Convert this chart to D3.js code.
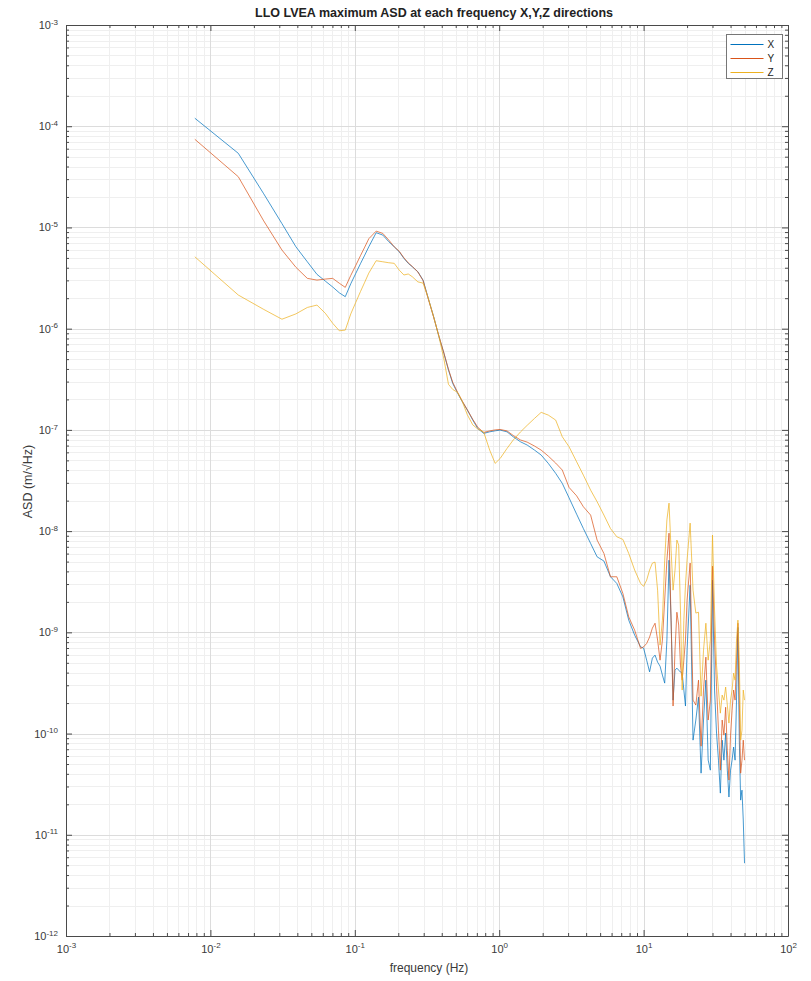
<!DOCTYPE html>
<html>
<head>
<meta charset="utf-8">
<script src="https://cdn.jsdelivr.net/npm/d3@7"></script>
<style>
  body { margin: 0; background: #fff; }
  svg { display: block; }
  text { font-family: "Liberation Sans", Arial, Helvetica, sans-serif; }
</style>
</head>
<body>
<svg id="chart" width="811" height="981"></svg>
<script>
// Frequency bins (Hz) shared by the three directions
const freqHz = [
  0.0078, 0.0156, 0.0234, 0.0313, 0.0391, 0.0469, 0.0547, 0.0625, 0.0703, 0.0781,
  0.0859, 0.0938, 0.1016, 0.1094, 0.1172, 0.125, 0.1406, 0.1563, 0.1719, 0.1875,
  0.2031, 0.2188, 0.2344, 0.25, 0.2734, 0.2969, 0.3203, 0.3516, 0.3828, 0.4141,
  0.4453, 0.4766, 0.5156, 0.5547, 0.6016, 0.6563, 0.7109, 0.7813, 0.8594, 0.9375,
  1.0156, 1.1328, 1.25, 1.4063, 1.5625, 1.7578, 1.9531, 2.1875, 2.4609, 2.7344,
  3.0469, 3.4375, 3.8281, 4.2969, 4.7656, 5.3125, 5.8984, 6.5234, 7.1875, 7.8906,
  8.6719, 9.5313,
  10, 10.5, 11, 11.5, 12, 12.5, 13, 13.5, 14, 14.5,
  15, 15.5, 16, 16.5, 17, 17.5, 18, 18.5, 19, 19.5,
  20, 21, 22, 23, 24, 25, 26, 27, 28, 29,
  30, 31, 32, 33, 34, 35, 36, 37, 38, 39,
  40, 41, 42, 43, 44, 45, 46, 47, 48, 49,
  50
];

// Maximum ASD (m/sqrt(Hz)), X direction
const asdX = [
  1.20e-4, 5.40e-5, 2.15e-5, 1.09e-5, 6.44e-6, 4.58e-6, 3.44e-6, 2.95e-6, 2.58e-6, 2.26e-6,
  2.07e-6, 2.78e-6, 3.52e-6, 4.38e-6, 5.33e-6, 6.44e-6, 8.87e-6, 8.41e-6, 7.23e-6, 6.44e-6,
  5.75e-6, 4.95e-6, 4.42e-6, 4.09e-6, 3.65e-6, 3.02e-6, 2.07e-6, 1.31e-6, 8.32e-7, 5.70e-7,
  3.90e-7, 2.88e-7, 2.30e-7, 1.90e-7, 1.57e-7, 1.25e-7, 1.03e-7, 9.23e-8, 9.57e-8, 9.79e-8,
  9.95e-8, 9.57e-8, 8.55e-8, 7.62e-8, 7.08e-8, 6.31e-8, 5.64e-8, 4.67e-8, 3.72e-8, 2.96e-8,
  2.13e-8, 1.47e-8, 1.06e-8, 7.55e-9, 5.57e-9, 5.06e-9, 3.54e-9, 3.04e-9, 2.24e-9, 1.32e-9,
  9.38e-10, 7.19e-10,
  6.98e-10, 5.31e-10, 4.07e-10, 5.56e-10, 5.96e-10, 5.07e-10, 4.63e-10, 3.78e-10, 3.15e-10, 8.38e-10,
  5.16e-9, 1.32e-9, 2.14e-10, 4.23e-10, 4.43e-10, 4.23e-10, 4.05e-10, 3.95e-10, 2.69e-10, 1.87e-10,
  6.67e-10, 2.92e-9, 8.61e-11, 1.36e-10, 2.29e-10, 4.06e-11, 1.36e-10, 3.37e-10, 5.47e-11, 4.35e-11,
  3.28e-9, 2.69e-10, 1.01e-10, 5.46e-11, 2.58e-11, 8.61e-11, 5.46e-11, 1.01e-10, 4.35e-11, 2.36e-11,
  4.35e-11, 5.46e-11, 7.35e-11, 5.46e-11, 2.14e-10, 1.12e-9, 8.61e-11, 2.20e-11, 2.76e-11, 1.40e-11,
  5.24e-12
];

// Maximum ASD (m/sqrt(Hz)), Y direction
const asdY = [
  7.43e-5, 3.17e-5, 1.16e-5, 5.98e-6, 4.04e-6, 3.14e-6, 3.02e-6, 3.09e-6, 3.14e-6, 2.81e-6,
  2.56e-6, 3.36e-6, 4.22e-6, 5.25e-6, 6.40e-6, 7.73e-6, 9.20e-6, 8.73e-6, 7.50e-6, 6.44e-6,
  5.82e-6, 5.01e-6, 4.47e-6, 4.12e-6, 3.63e-6, 2.99e-6, 2.04e-6, 1.30e-6, 8.41e-7, 5.75e-7,
  3.98e-7, 2.95e-7, 2.34e-7, 1.93e-7, 1.58e-7, 1.27e-7, 1.06e-7, 9.44e-8, 9.77e-8, 1.00e-7,
  1.01e-7, 9.77e-8, 8.81e-8, 7.94e-8, 7.57e-8, 6.92e-8, 6.31e-8, 5.51e-8, 4.70e-8, 4.01e-8,
  2.70e-8, 2.23e-8, 1.74e-8, 1.44e-8, 8.15e-9, 6.01e-9, 3.54e-9, 3.54e-9, 2.42e-9, 1.42e-9,
  1.05e-9, 6.93e-10,
  7.19e-10, 7.76e-10, 8.97e-10, 1.10e-9, 1.23e-9, 8.38e-10, 5.31e-10, 8.38e-10, 2.08e-9, 5.16e-9,
  9.55e-9, 1.32e-9, 1.87e-10, 6.67e-10, 1.58e-9, 1.18e-9, 4.74e-10, 3.37e-10, 5.31e-10, 8.38e-10,
  2.08e-9, 4.83e-9, 2.14e-10, 1.91e-10, 3.37e-10, 7.50e-11, 2.69e-10, 5.69e-10, 1.36e-10, 2.14e-10,
  4.51e-9, 8.38e-10, 2.94e-10, 1.08e-10, 4.35e-11, 1.36e-10, 9.64e-11, 1.82e-10, 6.85e-11, 3.47e-11,
  9.64e-11, 1.70e-10, 2.69e-10, 2.14e-10, 5.31e-10, 1.23e-9, 2.14e-10, 4.06e-11, 5.46e-11, 8.61e-11,
  5.46e-11
];

// Maximum ASD (m/sqrt(Hz)), Z direction
const asdZ = [
  5.13e-6, 2.15e-6, 1.55e-6, 1.24e-6, 1.40e-6, 1.62e-6, 1.71e-6, 1.42e-6, 1.13e-6, 9.53e-7,
  9.68e-7, 1.40e-6, 1.82e-6, 2.32e-6, 2.88e-6, 3.54e-6, 4.69e-6, 4.58e-6, 4.48e-6, 4.42e-6,
  3.79e-6, 3.39e-6, 3.47e-6, 3.26e-6, 2.90e-6, 2.82e-6, 2.07e-6, 1.31e-6, 8.32e-7, 5.01e-7,
  2.82e-7, 2.51e-7, 2.34e-7, 1.91e-7, 1.41e-7, 1.12e-7, 1.02e-7, 9.51e-8, 6.31e-8, 4.67e-8,
  5.22e-8, 6.56e-8, 7.93e-8, 9.57e-8, 1.11e-7, 1.30e-7, 1.49e-7, 1.40e-7, 1.25e-7, 8.55e-8,
  6.81e-8, 4.84e-8, 3.57e-8, 2.54e-8, 1.95e-8, 1.44e-8, 1.06e-8, 8.79e-9, 8.28e-9, 6.01e-9,
  4.12e-9, 3.04e-9,
  2.85e-9, 3.28e-9, 4.12e-9, 4.83e-9, 4.94e-9, 2.61e-9, 7.48e-10, 1.32e-9, 5.16e-9, 1.29e-8,
  1.89e-8, 6.49e-9, 2.61e-9, 4.12e-9, 8.15e-9, 7.28e-9, 1.66e-9, 2.69e-10, 1.32e-9, 2.93e-9,
  5.16e-9, 1.20e-8, 2.61e-9, 1.55e-9, 1.58e-9, 2.34e-10, 6.67e-10, 1.23e-9, 5.31e-10, 8.38e-10,
  9.14e-9, 1.66e-9, 4.74e-10, 2.69e-10, 1.59e-10, 2.40e-10, 2.14e-10, 2.88e-10, 1.91e-10, 1.27e-10,
  2.14e-10, 2.69e-10, 3.95e-10, 3.37e-10, 8.38e-10, 1.32e-9, 5.31e-10, 8.61e-11, 1.08e-10, 2.69e-10,
  2.14e-10
];

const seriesNames = ["X", "Y", "Z"];
const seriesValues = [asdX, asdY, asdZ];
const seriesColors = ["#0072BD", "#D95319", "#EDB120"];

// Decade exponents used for the tick labels
const xTickExponents = [-3, -2, -1, 0, 1, 2];
const yTickExponents = [-12, -11, -10, -9, -8, -7, -6, -5, -4, -3];

const titleText = "LLO LVEA maximum ASD at each frequency X,Y,Z directions";
const xLabelText = "frequency (Hz)";
const yLabelText = "ASD (m/\u221AHz)";

const W = 811, H = 981;
const plot = { left: 66, right: 788, top: 25, bottom: 936 };
const axisColor = "#4a4a4a";
const textColor = "#3a3a3a";

const svg = d3.select("#chart");

const x = d3.scaleLog().domain([1e-3, 1e2]).range([plot.left, plot.right]);
const y = d3.scaleLog().domain([1e-12, 1e-3]).range([plot.bottom, plot.top]);

const majorX = xTickExponents.map(e => Math.pow(10, e));
const majorY = yTickExponents.map(e => Math.pow(10, e));
function minorFor(exps) {
  const out = [];
  exps.slice(0, -1).forEach(e => {
    for (let m = 2; m <= 9; m++) out.push(m * Math.pow(10, e));
  });
  return out;
}
const minorX = minorFor(xTickExponents);
const minorY = minorFor(yTickExponents);

// Grid: minor first, then major on top
const grid = svg.append("g").attr("class", "grid");
function gridLines(values, scale, vertical, color) {
  grid.append("g").selectAll("line").data(values).join("line")
    .attr("x1", d => vertical ? Math.round(scale(d)) + 0.5 : plot.left)
    .attr("x2", d => vertical ? Math.round(scale(d)) + 0.5 : plot.right)
    .attr("y1", d => vertical ? plot.top : Math.round(scale(d)) + 0.5)
    .attr("y2", d => vertical ? plot.bottom : Math.round(scale(d)) + 0.5)
    .attr("stroke", color)
    .attr("stroke-width", 1);
}
gridLines(minorX, x, true, "#efefef");
gridLines(minorY, y, false, "#efefef");
gridLines(majorX, x, true, "#dcdcdc");
gridLines(majorY, y, false, "#dcdcdc");

// Data lines
const line = d3.line()
  .x((d, i) => x(freqHz[i]))
  .y(d => y(d));

svg.append("g").selectAll("path").data(seriesValues).join("path")
  .attr("d", d => line(d))
  .attr("fill", "none")
  .attr("stroke", (d, i) => seriesColors[i])
  .attr("stroke-width", 0.9)
  .attr("stroke-linejoin", "round")
  .attr("stroke-opacity", 0.8);

// Power-of-ten tick labels
function powerLabels(sel) {
  sel.selectAll(".tick text").each(function (d) {
    const t = d3.select(this);
    t.text(null);
    t.append("tspan").text("10");
    t.append("tspan")
      .attr("dy", "-0.55em")
      .attr("font-size", "8px")
      .text(Math.round(Math.log10(d)));
  });
}

function styleAxis(g) {
  g.select(".domain").attr("stroke", axisColor);
  g.selectAll(".tick line").attr("stroke", axisColor);
  g.selectAll(".tick text").attr("fill", textColor).attr("font-size", "11px")
    .attr("font-family", "'Liberation Sans', Arial, Helvetica, sans-serif");
}

// Bottom axis
const gx = svg.append("g").attr("transform", `translate(0,${plot.bottom})`);
gx.call(d3.axisBottom(x).tickValues(minorX).tickSize(-3).tickFormat(""))
  .call(g => g.select(".domain").remove());
gx.append("g").call(d3.axisBottom(x).tickValues(majorX).tickSize(-6).tickSizeOuter(0).tickPadding(9))
  .call(styleAxis).call(powerLabels);

// Left axis
const gy = svg.append("g").attr("transform", `translate(${plot.left},0)`);
gy.call(d3.axisLeft(y).tickValues(minorY).tickSize(-3).tickFormat(""))
  .call(g => g.select(".domain").remove());
gy.append("g").call(d3.axisLeft(y).tickValues(majorY).tickSize(-6).tickSizeOuter(0).tickPadding(8))
  .call(styleAxis).call(powerLabels);

// Top and right box edges with inward ticks
const gt = svg.append("g").attr("transform", `translate(0,${plot.top})`);
gt.call(d3.axisTop(x).tickValues(minorX).tickSize(-3).tickFormat(""))
  .call(g => g.select(".domain").remove());
gt.append("g").call(d3.axisTop(x).tickValues(majorX).tickSize(-6).tickSizeOuter(0).tickFormat(""))
  .call(styleAxis);

const gr = svg.append("g").attr("transform", `translate(${plot.right},0)`);
gr.call(d3.axisRight(y).tickValues(minorY).tickSize(-3).tickFormat(""))
  .call(g => g.select(".domain").remove());
gr.append("g").call(d3.axisRight(y).tickValues(majorY).tickSize(-6).tickSizeOuter(0).tickFormat(""))
  .call(styleAxis);

svg.selectAll(".tick line").attr("stroke", axisColor);

// Title and axis labels
svg.append("text")
  .attr("x", 434)
  .attr("y", 17)
  .attr("text-anchor", "middle")
  .attr("font-weight", "bold")
  .attr("font-size", "12.5px")
  .attr("fill", "#222")
  .text(titleText);

svg.append("text")
  .attr("x", 429)
  .attr("y", 972)
  .attr("text-anchor", "middle")
  .attr("font-size", "12px")
  .attr("fill", textColor)
  .text(xLabelText);

svg.append("text")
  .attr("transform", `translate(32,${(plot.top + plot.bottom) / 2 + 1}) rotate(-90)`)
  .attr("text-anchor", "middle")
  .attr("font-size", "12.5px")
  .attr("fill", textColor)
  .text(yLabelText);

// Legend
const legend = svg.append("g").attr("transform", "translate(726.5,34.5)");
legend.append("rect")
  .attr("width", 56).attr("height", 44)
  .attr("fill", "#fff")
  .attr("stroke", "#777").attr("stroke-width", 1);
const rows = legend.selectAll("g.row").data(seriesNames).join("g")
  .attr("class", "row")
  .attr("transform", (d, i) => `translate(0,${10 + i * 14})`);
rows.append("line")
  .attr("x1", 4).attr("x2", 37).attr("y1", 0).attr("y2", 0)
  .attr("stroke", (d, i) => seriesColors[i])
  .attr("stroke-width", 1);
rows.append("text")
  .attr("x", 41).attr("y", 0).attr("dy", "0.35em")
  .attr("font-size", "10px")
  .attr("fill", "#222")
  .text(d => d);
</script>
</body>
</html>
